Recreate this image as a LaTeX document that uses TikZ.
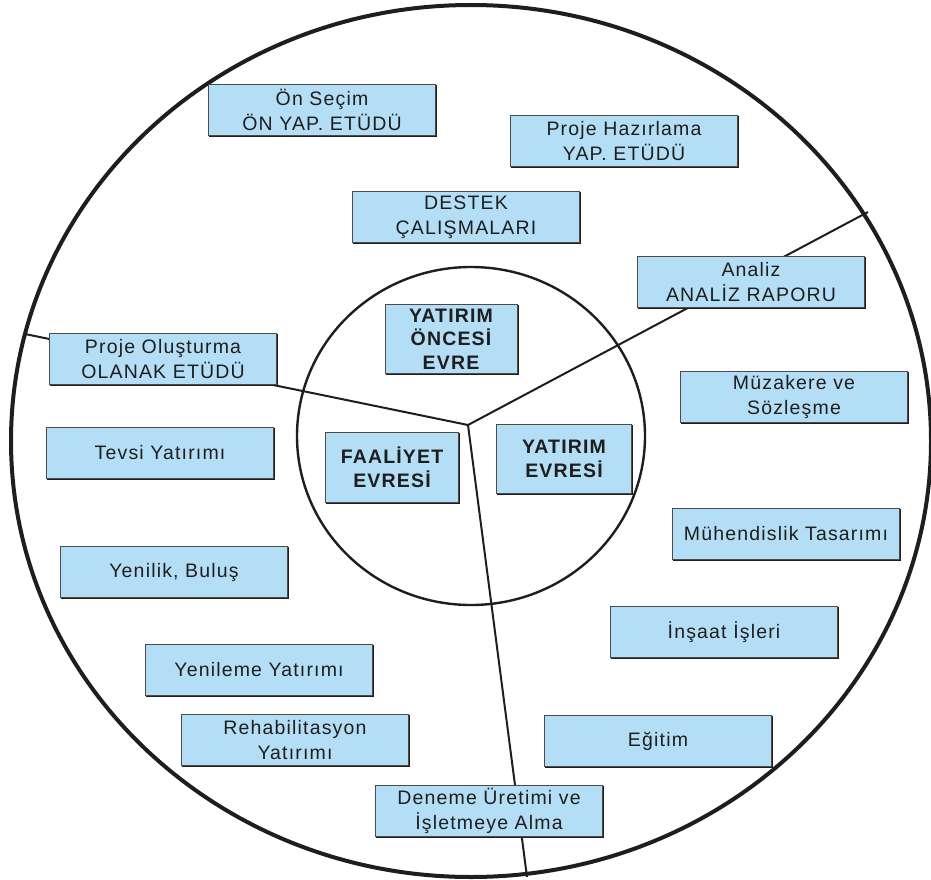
\documentclass[tikz,border=0pt]{standalone}
\usepackage{fontspec}
\usetikzlibrary{shadows}
\setmainfont{Liberation Sans}[LetterSpace=6]
\definecolor{boxblue}{RGB}{180,222,245}
\definecolor{inkgray}{RGB}{30,30,30}
\begin{document}
\begin{tikzpicture}[x=1pt,y=-1pt,
  boxbase/.style={draw=inkgray!80,line width=1pt,fill=boxblue,
    copy shadow={shadow xshift=1.3pt,shadow yshift=-1.3pt,draw=inkgray,fill=inkgray},
    inner sep=0pt,align=center,text=inkgray},
  stepbox/.style={boxbase,minimum width=227pt,minimum height=51pt,
    font=\fontsize{19.5}{25}\selectfont},
  phasebox/.style={boxbase,font=\fontsize{19.5}{23.5}\selectfont\bfseries},
  ring/.style={draw=inkgray,line width=4pt},
  innerring/.style={draw=inkgray,line width=2.4pt},
  divider/.style={draw=inkgray,line width=2pt}]
\useasboundingbox (0,0) rectangle (931,880);

% dividing lines between the three phases
\coordinate (J) at (468,425);
\coordinate (L) at (25,334);
\coordinate (R) at (868,212);
\coordinate (B) at (527,877);
\draw[divider] (L) -- (J) -- (R);
\draw[divider] (J) -- (B);

% outer and inner rings
\draw[ring] (471,441) ellipse [x radius=460, y radius=436];
\draw[innerring] (471,436) ellipse [x radius=174, y radius=169];

% phase labels
\node[phasebox,minimum width=132pt,minimum height=69pt] (oncesi) at (451,339) {YATIRIM\\ÖNCESİ\\EVRE};
\node[phasebox,minimum width=133pt,minimum height=70pt] (faaliyet) at (392,467) {FAALİYET\\EVRESİ};
\node[phasebox,minimum width=135pt,minimum height=69pt] (yatirim) at (564,459) {YATIRIM\\EVRESİ};

% activities
\node[stepbox] (onsecim)   at (322,110) {Ön Seçim\\ÖN YAP. ETÜDÜ};
\node[stepbox] (projehaz)  at (624,141) {Proje Hazırlama\\YAP. ETÜDÜ};
\node[stepbox] (destek)    at (466,217) {DESTEK\\ÇALIŞMALARI};
\node[stepbox] (analiz)    at (751,282) {Analiz\\ANALİZ RAPORU};
\node[stepbox] (projeol)   at (163,359) {Proje Oluşturma\\OLANAK ETÜDÜ};
\node[stepbox] (muzakere)  at (794,397) {Müzakere ve\\Sözleşme};
\node[stepbox] (tevsi)     at (160,453) {Tevsi Yatırımı};
\node[stepbox] (muhendis)  at (786,534) {Mühendislik Tasarımı};
\node[stepbox] (yenilik)   at (174,572) {Yenilik, Buluş};
\node[stepbox] (insaat)    at (724,632) {İnşaat İşleri};
\node[stepbox] (yenileme)  at (259,670) {Yenileme Yatırımı};
\node[stepbox] (rehab)     at (295,740) {Rehabilitasyon\\Yatırımı};
\node[stepbox] (egitim)    at (658,741) {Eğitim};
\node[stepbox] (deneme)    at (489,811) {Deneme Üretimi ve\\İşletmeye Alma};
\end{tikzpicture}
\end{document}
